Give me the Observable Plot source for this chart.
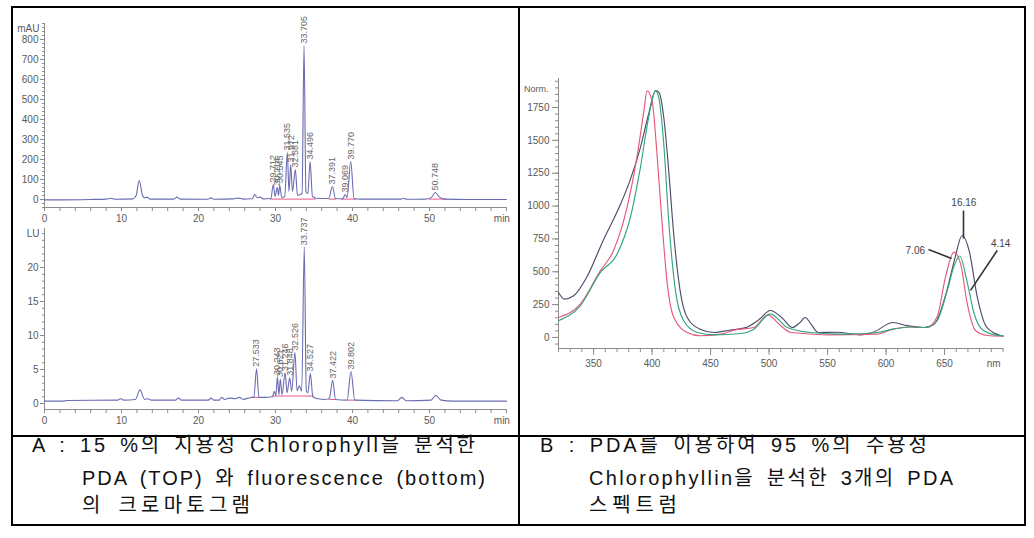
<!DOCTYPE html>
<html><head><meta charset="utf-8">
<script src="https://cdn.jsdelivr.net/npm/d3@7"></script>
<script src="https://cdn.jsdelivr.net/npm/@observablehq/plot@0.6"></script>
<style>
body{margin:0;background:#fff;}
#wrap{position:relative;width:1034px;height:538px;overflow:hidden;background:#fff;}
.ln{position:absolute;background:#000;}
.cap{position:absolute;white-space:nowrap;font-family:"Liberation Sans","Noto Sans CJK KR",sans-serif;font-size:20px;line-height:30px;color:#111;letter-spacing:0px;word-spacing:4px;}
</style></head>
<body>
<div id="wrap">
  <div class="ln" style="left:11px;top:6px;width:1015px;height:2px"></div>
  <div class="ln" style="left:11px;top:435px;width:1015px;height:2px"></div>
  <div class="ln" style="left:11px;top:524px;width:1015px;height:2px"></div>
  <div class="ln" style="left:11px;top:6px;width:2px;height:520px"></div>
  <div class="ln" style="left:518px;top:6px;width:2px;height:520px"></div>
  <div class="ln" style="left:1024px;top:6px;width:2px;height:520px"></div>
  <div class="cap" data-w="443" style="left:32px;top:430px">A : 15 %의 지용성 Chlorophyll을 분석한</div>
  <div class="cap" data-w="403" style="left:82px;top:463px">PDA (TOP) 와 fluorescence (bottom)</div>
  <div class="cap" data-w="168" style="left:82px;top:490px">의 크로마토그램</div>
  <div class="cap" data-w="387" style="left:540px;top:430px">B : PDA를 이용하여 95 %의 수용성</div>
  <div class="cap" data-w="364" style="left:589px;top:463px">Chlorophyllin을 분석한 3개의 PDA</div>
  <div class="cap" data-w="88" style="left:589px;top:490px">스펙트럼</div>
</div>
<script>
// ---------- Panel A (top): PDA chromatogram, mAU ----------
const topTime = [0,2.5,6,8,8.6,9.2,11.5,11.9,12.3,12.7,13.0,13.3,13.7,16.8,17.2,17.6,21.2,21.6,22,24.5,25.2,25.8,27.0,27.3,27.6,28.0,28.4,29.4,29.712,29.95,30.214,30.4,30.543,30.8,31.2,31.535,31.75,31.972,32.2,32.581,32.85,33.2,33.45,33.705,33.95,34.2,34.496,34.8,35.5,36.9,37.391,37.8,38.7,39.069,39.3,39.770,40.2,41,43,46.3,46.6,47,49.5,50.3,50.748,51.3,52,55,60];
const topSignal = [-2,-2,0,2,6,1,3,20,95,25,8,12,2,2,12,2,1,8,1,3,7,2,4,25,10,12,3,5,75,15,60,20,72,10,15,235,40,175,40,150,20,25,30,770,40,30,190,15,5,5,65,5,3,25,10,190,5,2,2,2,6,1,2,12,35,12,2,0,0];
const topPeakTimes = [29.712,30.214,30.543,31.535,31.972,32.581,33.705,34.496,37.391,39.069,39.770,50.748];
const topPeakHeights = [75,60,72,235,175,150,770,190,65,25,190,35];
const topPeakLabels = ["29.712","30.214","30.543","31.535","31.972","32.581","33.705","34.496","37.391","39.069","39.770","50.748"];
const topBaseStart = [29.3,36.9,38.6,49.9];
const topBaseEnd = [35.2,37.9,40.5,52.2];
const topBaseLevel = [2,2,2,2];
const topYTicks = [0,100,200,300,400,500,600,700,800];

// ---------- Panel A (bottom): fluorescence chromatogram, LU ----------
const botTime = [0,2.6,2.8,9.5,9.9,10.3,11.8,12.4,13.0,13.4,13.9,17.0,17.4,17.8,21.3,21.6,22,22.7,23.0,23.4,24.0,24.8,25.3,25.8,26.5,27.2,27.533,27.85,28.5,29.6,29.85,30.05,30.243,30.45,30.621,30.85,31.246,31.5,31.848,32.1,32.526,32.8,33.1,33.4,33.737,34.0,34.2,34.527,34.85,35.5,36.5,37.0,37.422,37.8,39.3,39.802,40.3,45.8,46.4,47,50.2,50.8,51.5,53,60];
const botSignal = [0.35,0.35,0.45,0.5,0.7,0.5,0.6,2.0,0.6,0.7,0.5,0.5,0.8,0.5,0.5,0.8,0.5,0.5,0.9,0.6,0.8,0.7,0.9,0.6,0.8,1.0,5.1,0.9,0.9,1.0,1.8,1.2,3.9,1.3,3.6,1.3,4.5,1.6,3.8,1.8,7.5,1.9,2.6,1.8,23,1.8,1.6,4.4,1.0,0.7,0.6,0.8,3.4,0.6,0.5,4.7,0.5,0.4,0.9,0.4,0.5,1.2,0.5,0.35,0.35];
const botPeakTimes = [27.533,30.243,30.621,31.246,31.848,32.526,33.737,34.527,37.422,39.802];
const botPeakHeights = [5.1,3.9,3.6,4.5,3.8,7.5,23,4.4,3.4,4.7];
const botPeakLabels = ["27.533","30.243","30.621","31.246","31.848","32.526","33.737","34.527","37.422","39.802"];
const botBaseStart = [26.9,29.5,36.9,39.3];
const botBaseEnd = [28.1,35.0,37.9,40.5];
const botBaseLevel = [0.9,1.1,0.6,0.5];
const botYTicks = [0,5,10,15,20];
const timeTicks = [0,10,20,30,40,50];

// ---------- Panel B: PDA spectra ----------
const darkNm = [320,325,333,344,358,373,381,390,397,403,406,410,414,418.5,424,430,441,453,466,480,492,501,511,520,526,531,536,542,558,578,589,606,618,632,641,652,659,665,671,678,686,698,700];
const darkVal = [342,292,317,456,735,1014,1192,1445,1699,1880,1864,1674,1293,786,355,152,63,38,55,75,140,205,150,76,110,152,100,38,40,20,40,114,90,76,100,357,608,776,662,307,78,15,12];
const redNm = [320,338.6,355.7,367,378.6,387,393,395.7,400,404,408.6,413,418.6,430,441,458.6,470,487,499,510,518,530,550,592,606,620,635,643.6,650.8,658,663.7,669.4,676.5,686.5,700];
const redVal = [152,254,507,660,990,1370,1725,1877,1800,1420,862,406,152,38,13,25,56,76,170,89,40,30,20,25,63,80,76,155,459,649,562,258,53,15,10];
const greenNm = [320,338.6,355.7,370,381.4,390,397,403,405.7,410,414,420,427,438.6,453,475.7,487,501,515.6,535.5,564,592.5,606,620,635,643.6,652.3,658,663,669.4,675,683.6,698,700];
const greenVal = [127,241,494,634,913,1293,1674,1877,1826,1471,913,355,127,38,20,30,63,180,76,38,25,38,63,80,76,127,357,540,620,420,190,51,13,12];
const nmTicks = [350,400,450,500,550,600,650];
const normTicks = [0,250,500,750,1000,1250,1500,1750];
const annLabels = ["16.16","7.06","4.14"];
const annTextNm = [666.5,625,698];
const annTextVal = [1027,662,715];
const annFromNm = [666.2,636.3,695];
const annFromVal = [966,670,662];
const annToNm = [666.2,656,672.2];
const annToVal = [753,601,358];

const FONT = "'Liberation Sans Narrow','Liberation Sans',Arial,sans-serif";
const axisGrey = "#8c8c8c";
const labelGrey = "#5a5a5a";
const traceColor = "#6a6cb2";
const pink = "#e2558a";
const wrap = document.getElementById("wrap");
function place(el, left, top) { el.style.position = "absolute"; el.style.left = left + "px"; el.style.top = top + "px"; wrap.appendChild(el); }
const zipT = (a, b) => a.map((t, i) => ({t, v: b[i]}));
const noText = () => "";
const plain = d => String(d);

function chromatogram(o) {
  const trace = zipT(o.time, o.signal);
  const peaks = o.peakTimes.map((t, i) => ({t, v: o.peakHeights[i], s: o.peakLabels[i]}));
  const bases = o.baseStart.map((s, i) => ({s, e: o.baseEnd[i], v: o.baseLevel[i]}));
  const y0 = o.yDomain[0];
  return Plot.plot({
    width: 519, height: o.height, marginLeft: 44, marginRight: 13, marginTop: o.marginTop, marginBottom: o.marginBottom,
    style: {fontFamily: FONT, fontSize: "10px", color: labelGrey, background: "transparent", overflow: "visible"},
    x: {domain: [0, 60]},
    y: {domain: o.yDomain},
    marks: [
      Plot.axisY({ticks: o.minorY, tickSize: 2, tickFormat: noText, stroke: axisGrey, label: null}),
      Plot.axisY({ticks: o.yTicks, tickSize: 4, tickPadding: 2, tickFormat: plain, stroke: axisGrey, label: null}),
      Plot.axisX({ticks: d3.range(0, 61, 2), tickSize: 4, tickFormat: noText, stroke: axisGrey, label: null}),
      Plot.axisX({ticks: timeTicks, tickSize: 4, tickPadding: 3, tickFormat: plain, stroke: axisGrey, label: null}),
      Plot.axisX({ticks: [59.4], tickSize: 0, tickPadding: 7, tickFormat: () => "min", label: null}),
      Plot.ruleX([0], {stroke: axisGrey}),
      Plot.ruleY([y0], {stroke: axisGrey}),
      Plot.text([o.unit], {text: d => d, frameAnchor: "top-left", dx: -5, dy: 1, textAnchor: "end"}),
      Plot.link(bases, {x1: "s", x2: "e", y1: "v", y2: "v", stroke: pink, strokeWidth: 1}),
      Plot.line(trace, {x: "t", y: "v", stroke: traceColor, strokeWidth: 1.1, curve: "monotone-x"}),
      Plot.text(peaks, {x: "t", y: "v", text: "s", rotate: -90, textAnchor: "start", dy: -2, fontSize: 9, fill: "#666"})
    ]
  });
}

place(chromatogram({
  time: topTime, signal: topSignal, peakTimes: topPeakTimes, peakHeights: topPeakHeights, peakLabels: topPeakLabels,
  baseStart: topBaseStart, baseEnd: topBaseEnd, baseLevel: topBaseLevel,
  yDomain: [-40, 880], yTicks: topYTicks, minorY: d3.range(-40, 881, 20), unit: "mAU",
  height: 228, marginTop: 23, marginBottom: 21
}), 0, 0);

place(chromatogram({
  time: botTime, signal: botSignal, peakTimes: botPeakTimes, peakHeights: botPeakHeights, peakLabels: botPeakLabels,
  baseStart: botBaseStart, baseEnd: botBaseEnd, baseLevel: botBaseLevel,
  yDomain: [-0.88, 25.74], yTicks: botYTicks, minorY: d3.range(0, 25.6, 1), unit: "LU",
  height: 220, marginTop: 13, marginBottom: 26
}), 0, 215);

const spectra = [
  ...darkNm.map((n, i) => ({n, v: darkVal[i], k: "16.16"})),
  ...redNm.map((n, i) => ({n, v: redVal[i], k: "7.06"})),
  ...greenNm.map((n, i) => ({n, v: greenVal[i], k: "4.14"}))
];
const ann = annLabels.map((s, i) => ({s, tn: annTextNm[i], tv: annTextVal[i], x1: annFromNm[i], y1: annFromVal[i], x2: annToNm[i], y2: annToVal[i]}));

const spec = Plot.plot({
  width: 500, height: 320, marginLeft: 39, marginRight: 16, marginTop: 28, marginBottom: 22,
  style: {fontFamily: FONT, fontSize: "10px", color: labelGrey, background: "transparent", overflow: "visible"},
  x: {domain: [320, 700.4]},
  y: {domain: [-84, 1971]},
  color: {domain: ["16.16", "7.06", "4.14"], range: ["#4d4d6b", "#e4587c", "#33a57f"]},
  marks: [
    Plot.axisY({ticks: d3.range(-50, 1951, 50), tickSize: 3, tickFormat: noText, stroke: axisGrey, label: null}),
    Plot.axisY({ticks: normTicks, tickSize: 6, tickPadding: 3, tickFormat: plain, stroke: axisGrey, label: null}),
    Plot.axisX({ticks: d3.range(320, 701, 10), tickSize: 4, tickFormat: noText, stroke: axisGrey, label: null}),
    Plot.axisX({ticks: nmTicks, tickSize: 7, tickPadding: 4, tickFormat: plain, stroke: axisGrey, label: null}),
    Plot.axisX({ticks: [692], tickSize: 0, tickPadding: 11, tickFormat: () => "nm", label: null}),
    Plot.ruleX([320], {stroke: axisGrey}),
    Plot.ruleY([-84], {stroke: axisGrey}),
    Plot.text(["Norm."], {text: d => d, frameAnchor: "top-left", dx: -10, dy: 7, textAnchor: "end", fontSize: 9}),
    Plot.line(spectra, {x: "n", y: "v", z: "k", stroke: "k", strokeWidth: 1.15, curve: "monotone-x"}),
    Plot.link(ann, {x1: "x1", y1: "y1", x2: "x2", y2: "y2", stroke: "#333", strokeWidth: 1.6}),
    Plot.text(ann, {x: "tn", y: "tv", text: "s", fontSize: 10, fill: "#444"})
  ]
});
place(spec, 519, 50);

// stretch caption lines to the widths they occupy in the original table
document.querySelectorAll(".cap").forEach(el => {
  const target = +el.dataset.w;
  const natural = el.getBoundingClientRect().width;
  const n = [...el.textContent].length;
  if (n > 1) el.style.letterSpacing = ((target - natural) / (n - 1)) + "px";
});
</script>
</body></html>
